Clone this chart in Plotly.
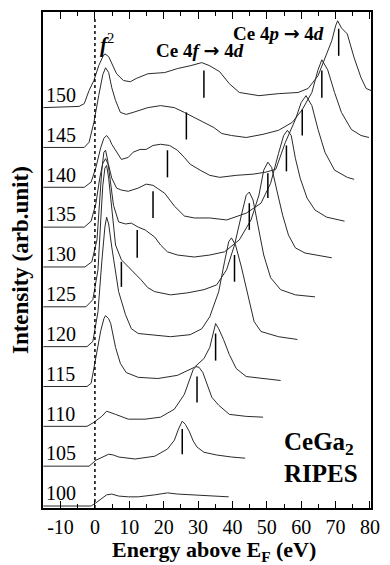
import plotly.graph_objects as go

# ---------------- data ----------------
photon_energies = [100, 105, 110, 115, 120, 125, 130, 135, 140, 145, 150]

E100 = [-15, -1.1, 0.3, 2.0, 3.4, 4.9, 6.9, 9.7, 12.6, 17.4, 21.1, 24.0, 28.3, 32.6, 38.9]
I100 = [0, 0, 0.08, 0.2, 0.28, 0.3, 0.25, 0.23, 0.23, 0.28, 0.33, 0.3, 0.28, 0.25, 0.23]

E105 = [-15, -1.7, 0.3, 2.6, 4.0, 5.4, 6.9, 11.7, 17.4, 21.1, 23.1, 24.3, 25.4, 26.3, 27.4, 28.6, 29.7, 31.7, 35.4, 39.7, 43.7]
I105 = [0, 0, 0.15, 0.25, 0.3, 0.28, 0.23, 0.18, 0.25, 0.43, 0.65, 0.93, 1.13, 1.05, 0.88, 0.63, 0.48, 0.35, 0.28, 0.23, 0.2]

E110 = [-15, -2.3, -0.3, 2.0, 3.4, 4.6, 6.0, 9.7, 14.6, 19.1, 23.1, 26.0, 27.7, 28.6, 29.4, 30.3, 31.4, 32.6, 34.0, 36.0, 39.1, 44.0, 48.9]
I110 = [0, 0, 0.1, 0.25, 0.38, 0.35, 0.3, 0.18, 0.18, 0.23, 0.43, 0.8, 1.18, 1.43, 1.5, 1.48, 1.35, 1.05, 0.73, 0.53, 0.3, 0.25, 0.23]

E115 = [-15, -2.3, -1.1, 0.3, 1.7, 2.6, 3.1, 4.0, 4.6, 6.0, 7.4, 9.1, 12.6, 18.3, 24.0, 28.9, 31.7, 33.4, 34.6, 35.1, 36.0, 37.4, 39.1, 41.1, 44.0, 48.9, 54.0]
I115 = [0, 0, 0.08, 0.73, 1.4, 1.7, 1.78, 1.7, 1.58, 0.98, 0.58, 0.35, 0.23, 0.2, 0.28, 0.48, 0.7, 0.98, 1.4, 1.58, 1.45, 1.18, 0.8, 0.45, 0.25, 0.2, 0.15]

E120 = [-15, -2.3, -0.6, 0.9, 2.0, 2.9, 3.4, 4.0, 4.9, 5.7, 6.9, 8.9, 10.6, 12.6, 16.3, 22.0, 27.7, 31.1, 33.4, 36.0, 37.7, 38.9, 39.7, 40.9, 42.6, 44.6, 46.3, 48.3, 53.4, 58.9]
I120 = [0, 0, 0.13, 0.88, 2.13, 3.0, 3.25, 3.08, 2.5, 2.0, 1.38, 0.8, 0.45, 0.33, 0.3, 0.25, 0.3, 0.45, 0.75, 1.38, 2.13, 2.63, 2.73, 2.55, 2.0, 1.25, 0.63, 0.38, 0.25, 0.18]

E125 = [-15, -2.6, -0.6, 0.9, 1.7, 2.3, 2.9, 3.4, 4.0, 4.9, 6.0, 7.7, 10.6, 13.4, 15.4, 17.4, 22.0, 26.9, 31.7, 35.4, 38.3, 40.6, 42.6, 44.0, 44.9, 46.0, 47.4, 49.1, 51.1, 54.0, 58.3, 64.0]
I125 = [0, 0, 0.18, 0.93, 2.18, 3.05, 3.48, 3.55, 3.23, 2.43, 1.55, 1.18, 0.93, 0.68, 0.48, 0.38, 0.3, 0.35, 0.43, 0.55, 0.93, 1.55, 2.3, 2.8, 2.88, 2.68, 2.05, 1.3, 0.73, 0.43, 0.3, 0.25]

E130 = [-15, -2.9, -0.9, 0.6, 1.4, 2.0, 2.6, 3.1, 3.7, 4.6, 5.4, 6.9, 8.9, 10.6, 12.6, 14.6, 17.4, 19.1, 21.1, 24.0, 28.9, 33.4, 37.7, 42.0, 45.4, 47.7, 49.1, 50.3, 51.4, 52.9, 54.6, 56.3, 58.3, 61.1, 65.4, 68.9]
I130 = [0, 0, 0.13, 0.68, 1.68, 2.43, 2.88, 2.93, 2.68, 2.05, 1.55, 1.13, 1.08, 1.1, 1.0, 0.93, 0.75, 0.55, 0.38, 0.3, 0.25, 0.3, 0.38, 0.68, 1.18, 1.8, 2.43, 2.63, 2.5, 1.93, 1.3, 0.8, 0.48, 0.35, 0.28, 0.23]

E135 = [-15, -3.1, -1.1, 0.3, 1.4, 2.3, 3.1, 4.0, 4.9, 6.3, 7.7, 9.7, 12.6, 14.9, 16.9, 20.3, 23.1, 26.0, 28.9, 33.4, 38.3, 44.0, 48.3, 51.1, 53.4, 54.9, 56.0, 57.1, 58.3, 59.7, 61.7, 64.0, 67.4, 72.6]
I135 = [0, 0, 0.15, 0.6, 1.23, 1.6, 1.72, 1.55, 1.23, 0.98, 0.93, 0.9, 0.98, 1.08, 1.05, 0.85, 0.53, 0.28, 0.23, 0.23, 0.18, 0.35, 0.6, 1.1, 1.85, 2.3, 2.43, 2.3, 1.73, 1.23, 0.73, 0.43, 0.25, 0.15]

E140 = [-15, -3.1, -1.1, 0.3, 1.7, 2.6, 3.4, 4.3, 4.9, 6.3, 7.7, 9.7, 11.1, 13.1, 14.9, 16.9, 19.1, 21.7, 24.0, 26.0, 27.7, 30.6, 33.4, 36.3, 41.1, 46.0, 49.7, 52.6, 55.4, 58.3, 60.0, 61.4, 63.1, 64.9, 66.9, 69.7, 73.4, 75.4]
I140 = [0, 0, 0.13, 0.5, 1.0, 1.23, 1.3, 1.2, 1.08, 0.88, 0.7, 0.75, 0.88, 0.95, 0.95, 1.05, 1.08, 1.05, 0.93, 0.75, 0.58, 0.43, 0.3, 0.25, 0.3, 0.33, 0.38, 0.45, 1.13, 1.7, 2.13, 2.3, 2.05, 1.45, 0.88, 0.43, 0.25, 0.2]

E145 = [-15, -3.1, -1.7, -0.3, 1.1, 2.3, 3.1, 4.0, 4.9, 6.0, 7.4, 9.1, 11.1, 13.1, 15.4, 19.1, 23.1, 26.0, 28.9, 31.7, 34.6, 36.9, 39.7, 44.0, 48.9, 53.4, 57.4, 60.3, 63.1, 64.9, 66.0, 67.7, 69.7, 71.7, 74.6, 77.4, 79.7]
I145 = [0, 0, 0.13, 0.63, 1.3, 1.83, 2.0, 1.88, 1.5, 1.18, 0.88, 0.83, 0.88, 0.93, 1.0, 1.05, 1.0, 0.88, 0.75, 0.63, 0.5, 0.35, 0.3, 0.25, 0.33, 0.43, 0.63, 0.95, 1.38, 1.95, 2.2, 1.95, 1.38, 0.88, 0.45, 0.3, 0.25]

E150 = [-15, -4.6, -3.1, -1.7, -0.3, 1.1, 2.3, 2.9, 4.0, 4.9, 6.3, 8.3, 10.3, 12.0, 15.4, 20.3, 24.0, 27.7, 31.1, 33.4, 36.3, 39.1, 42.0, 47.7, 53.4, 59.1, 62.0, 64.9, 66.9, 68.9, 70.0, 70.6, 71.7, 73.4, 75.4, 77.4, 78.9, 80.3]
I150 = [0, 0.03, 0.1, 0.43, 0.68, 1.05, 1.28, 1.35, 1.28, 1.1, 0.85, 0.68, 0.65, 0.73, 0.85, 0.88, 0.98, 1.05, 1.13, 1.05, 0.9, 0.6, 0.38, 0.3, 0.35, 0.38, 0.48, 0.8, 1.23, 1.68, 2.05, 2.18, 2.0, 1.85, 1.25, 0.75, 0.48, 0.43]

spectra_E = [E100, E105, E110, E115, E120, E125, E130, E135, E140, E145, E150]
spectra_I = [I100, I105, I110, I115, I120, I125, I130, I135, I140, I145, I150]

# Ce 4p -> 4d markers (photon energy, E, intensity top, intensity bottom)
p_marker_hv = [105, 110, 115, 120, 125, 130, 135, 140, 145, 150]
p_marker_E = [25.4, 29.7, 35.1, 40.6, 44.9, 50.3, 55.7, 60.3, 66.0, 70.9]
p_marker_top = [0.93, 1.25, 1.33, 2.3, 2.6, 2.35, 2.05, 1.95, 1.93, 1.98]
p_marker_bot = [0.3, 0.6, 0.65, 1.63, 1.93, 1.73, 1.4, 1.3, 1.25, 1.3]

# Ce 4f -> 4d markers
f_marker_hv = [125, 130, 135, 140, 145, 150]
f_marker_E = [7.7, 12.3, 16.9, 21.1, 26.6, 31.7]
f_marker_top = [1.13, 0.93, 0.9, 0.93, 0.88, 0.93]
f_marker_bot = [0.5, 0.23, 0.23, 0.25, 0.2, 0.25]

x_ticks = [-10, 0, 10, 20, 30, 40, 50, 60, 70, 80]

# ---------------- figure ----------------
SERIF = "Liberation Serif"
ARROW = '<span style="font-family:DejaVu Sans">\u2192</span>'
step = 1.0
base = 0.05

def offset(hv):
    return base + step * photon_energies.index(hv)

fig = go.Figure()

for hv, ex, iy in zip(photon_energies, spectra_E, spectra_I):
    off = offset(hv)
    fig.add_trace(go.Scatter(x=ex, y=[v + off for v in iy], mode="lines",
                             line=dict(color="#2a2a2a", width=1), hoverinfo="skip",
                             showlegend=False))

for hvs, es, tops, bots in [(p_marker_hv, p_marker_E, p_marker_top, p_marker_bot),
                            (f_marker_hv, f_marker_E, f_marker_top, f_marker_bot)]:
    xs, ys = [], []
    for hv, e, t, b in zip(hvs, es, tops, bots):
        off = offset(hv)
        xs += [e, e, None]
        ys += [b + off, t + off, None]
    fig.add_trace(go.Scatter(x=xs, y=ys, mode="lines", line=dict(color="black", width=1.5),
                             hoverinfo="skip", showlegend=False))

# dotted line at E_F
fig.add_shape(type="line", x0=0, x1=0, y0=0, y1=12.35, xref="x", yref="y",
              line=dict(color="black", width=1.5, dash="dot"))

annotations = []
for hv in photon_energies:
    annotations.append(dict(x=-10, y=offset(hv) + 0.32, xref="x", yref="y", text=str(hv),
                            showarrow=False, xanchor="center", yanchor="middle",
                            font=dict(family=SERIF, size=20, color="black")))

annotations += [
    dict(x=3.4, y=11.65, xref="x", yref="y", text="<b><i>f</i></b><sup>2</sup>", showarrow=False,
         xanchor="center", yanchor="middle", font=dict(family=SERIF, size=21, color="black")),
    dict(x=17.3, y=11.5, xref="x", yref="y", text="<b>Ce 4<i>f</i> " + ARROW + " 4<i>d</i></b>",
         showarrow=False, xanchor="left", yanchor="middle",
         font=dict(family=SERIF, size=19, color="black")),
    dict(x=39.6, y=11.92, xref="x", yref="y", text="<b>Ce 4<i>p</i> " + ARROW + " 4<i>d</i></b>",
         showarrow=False, xanchor="left", yanchor="middle",
         font=dict(family=SERIF, size=19, color="black")),
    dict(x=54.5, y=1.62, xref="x", yref="y", text="<b>CeGa<sub>2</sub></b>",
         showarrow=False, xanchor="left", yanchor="middle",
         font=dict(family=SERIF, size=25, color="black")),
    dict(x=54.5, y=0.87, xref="x", yref="y", text="<b>RIPES</b>",
         showarrow=False, xanchor="left", yanchor="middle",
         font=dict(family=SERIF, size=25, color="black")),
    dict(x=0.52, y=-0.087, xref="paper", yref="paper",
         text="<b>Energy above E<sub>F</sub> (eV)</b>", showarrow=False,
         xanchor="center", yanchor="middle", font=dict(family=SERIF, size=22, color="black")),
    dict(x=-0.07, y=0.5, xref="paper", yref="paper", text="<b>Intensity (arb.unit)</b>",
         showarrow=False, textangle=-90, xanchor="center", yanchor="middle",
         font=dict(family=SERIF, size=23, color="black")),
]

fig.update_layout(
    width=390, height=565,
    margin=dict(l=43, r=12, t=10, b=57),
    paper_bgcolor="white", plot_bgcolor="white",
    annotations=annotations,
    showlegend=False,
)

fig.update_xaxes(range=[-15.1, 80.3], tickvals=x_ticks, ticktext=[str(t) for t in x_ticks],
                 showgrid=False, zeroline=False, showline=True, linecolor="black", linewidth=1.5,
                 mirror="ticks", ticks="inside", ticklen=7, tickwidth=1.2, tickcolor="black",
                 tickfont=dict(family=SERIF, size=20, color="black"),
                 minor=dict(ticks="inside", ticklen=4, dtick=5, tick0=0, tickwidth=1.2,
                            tickcolor="black", showgrid=False))
fig.update_yaxes(range=[0, 12.45], showgrid=False, zeroline=False, showline=True,
                 linecolor="black", linewidth=1.5, mirror=True, ticks="", showticklabels=False)

fig.write_html("out.html")
